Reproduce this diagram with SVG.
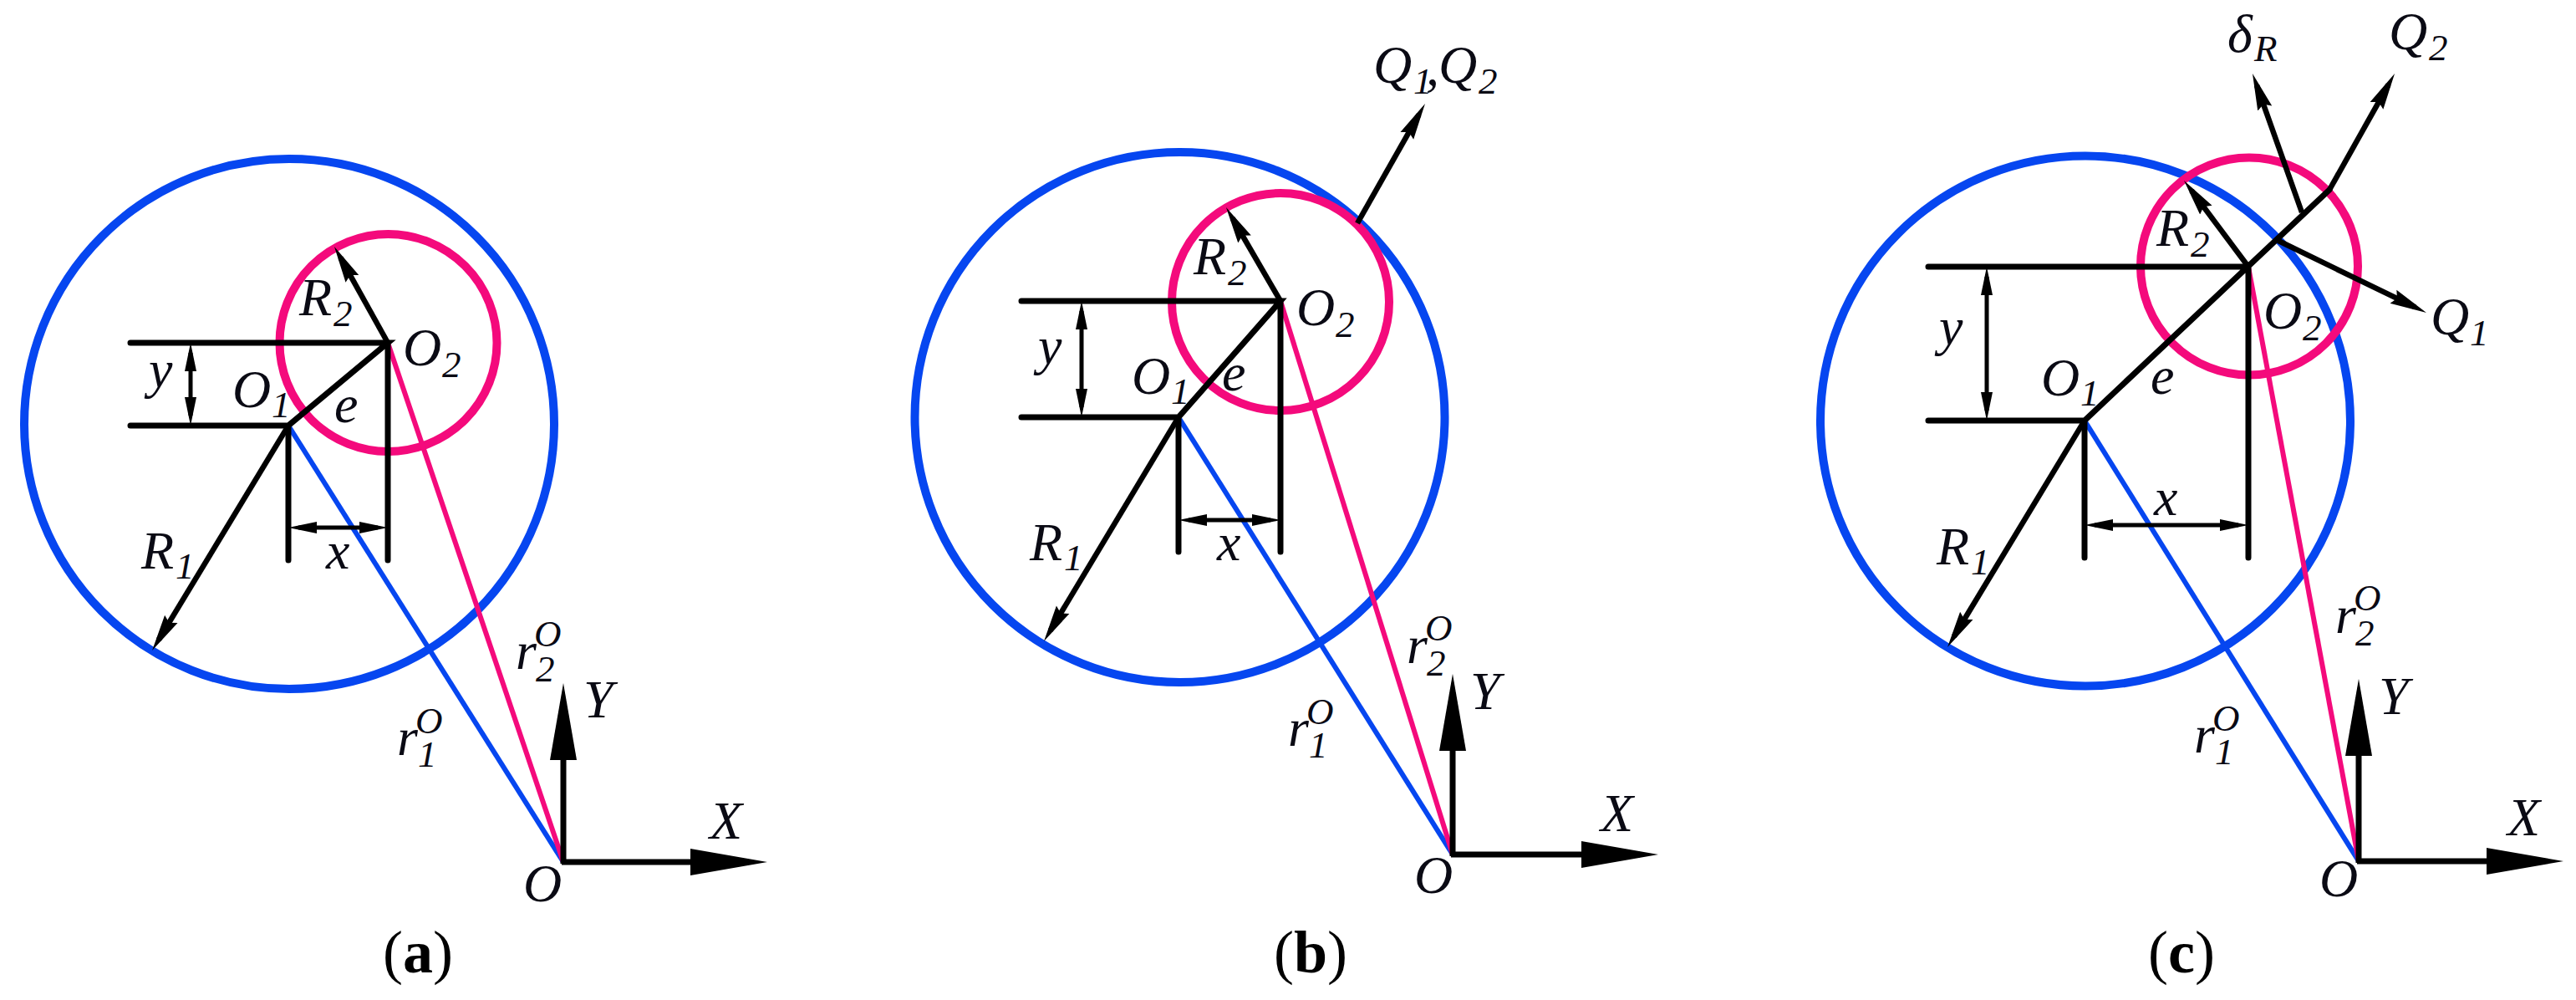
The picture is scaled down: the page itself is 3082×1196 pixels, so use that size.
<svg xmlns="http://www.w3.org/2000/svg" width="3082" height="1196" viewBox="0 0 3082 1196">
<defs>
<marker id="hm" markerUnits="userSpaceOnUse" markerWidth="46" markerHeight="20" refX="29" refY="10" orient="auto"><path d="M0 1 L44 10 L0 19 L5 10 Z" fill="#000"/></marker>
<marker id="hl" markerUnits="userSpaceOnUse" markerWidth="94" markerHeight="34" refX="70" refY="17" orient="auto"><path d="M0 1 L92 17 L0 33 Z" fill="#000"/></marker>
<marker id="hs" markerUnits="userSpaceOnUse" markerWidth="36" markerHeight="16" refX="22" refY="8" orient="auto-start-reverse"><path d="M0 1 L34 8 L0 15 Z" fill="#000"/></marker>
</defs>
<style>
.blue{fill:none;stroke:#0646f0;stroke-width:10}
.pink{fill:none;stroke:#f40a7c;stroke-width:10}
.bl{stroke:#0646f0;stroke-width:6;fill:none}
.pl{stroke:#f40a7c;stroke-width:6;fill:none}
.k{stroke:#000;stroke-width:7;fill:none;stroke-linecap:round}
.ka{stroke:#000;stroke-width:6.5;fill:none;marker-end:url(#hm)}
.ax{stroke:#000;stroke-width:7;fill:none;marker-end:url(#hl)}
.dm{stroke:#000;stroke-width:5;fill:none;marker-start:url(#hs);marker-end:url(#hs)}
text{font-family:"Liberation Serif","Times New Roman",serif;fill:#0a0a14}
.t{font-style:italic;font-size:64px}
.s{font-style:italic;font-size:45px}
.c{font-size:72px;text-anchor:middle;fill:#000}
.c tspan{font-weight:bold}
</style>
<rect width="3082" height="1196" fill="#fff"/>

<g id="panel-a">
<g id="circles-a">
<circle class="blue" cx="346" cy="507" r="317"/>
<circle class="pink" cx="464.5" cy="410" r="130"/>
</g>
<g id="connectors-a">
<line class="bl" x1="345" y1="509" x2="674" y2="1031"/>
<line class="pl" x1="464" y1="410" x2="674" y2="1031"/>
<path class="k" d="M156 410H464L345 509H156M345 509V670M464 410V670"/>
<line class="ka" x1="464" y1="410" x2="407.3" y2="308.1"/>
<line class="ka" x1="345" y1="509" x2="189.8" y2="765.2"/>
<line class="dm" x1="228" y1="422" x2="228" y2="497"/>
<line class="dm" x1="357" y1="631" x2="452" y2="631"/>
<line class="ax" x1="674" y1="1033" x2="674" y2="839"/>
<line class="ax" x1="672" y1="1031" x2="896" y2="1031"/>
</g>
<g id="labels-a">
<text class="t" x="358" y="377">R<tspan class="s" x="399" y="390">2</tspan></text>
<text class="t" x="482" y="437">O<tspan class="s" x="529" y="451">2</tspan></text>
<text class="t" x="278" y="487">O<tspan class="s" x="325" y="499">1</tspan></text>
<text class="t" x="400" y="505">e</text>
<text class="t" x="178" y="463">y</text>
<text class="t" x="390" y="680">x</text>
<text class="t" x="169" y="680">R<tspan class="s" x="210" y="692">1</tspan></text>
<text class="t" x="617" y="800">r<tspan class="s" x="639" y="773">O</tspan><tspan class="s" x="641" y="815">2</tspan></text>
<text class="t" x="475" y="903">r<tspan class="s" x="497" y="877">O</tspan><tspan class="s" x="500" y="917">1</tspan></text>
<text class="t" x="698" y="858">Y</text>
<text class="t" x="849" y="1003">X</text>
<text class="t" x="626" y="1078">O</text>
<text class="c" x="500" y="1163">(<tspan>a</tspan>)</text>
</g>
</g>

<g id="panel-b">
<g id="circles-b">
<circle class="blue" cx="1411.5" cy="499" r="317"/>
<circle class="pink" cx="1532" cy="361" r="130"/>
</g>
<g id="connectors-b">
<line class="bl" x1="1410" y1="499" x2="1738" y2="1022"/>
<line class="pl" x1="1532" y1="360" x2="1738" y2="1022"/>
<path class="k" d="M1222 360H1532L1410 499H1222M1410 499V660M1532 360V660"/>
<line class="ka" x1="1532" y1="360" x2="1474.5" y2="261"/>
<line class="ka" x1="1410" y1="499" x2="1256.7" y2="754.1"/>
<line class="ka" x1="1624" y1="267" x2="1697.6" y2="137.1"/>
<line class="dm" x1="1294" y1="372" x2="1294" y2="487"/>
<line class="dm" x1="1422" y1="622" x2="1520" y2="622"/>
<line class="ax" x1="1738" y1="1024" x2="1738" y2="828"/>
<line class="ax" x1="1736" y1="1022" x2="1962" y2="1022"/>
</g>
<g id="labels-b">
<text class="t" x="1643" y="99">Q<tspan class="s" x="1691" y="112">1</tspan><tspan x="1706" y="102">,</tspan><tspan x="1721" y="99">Q</tspan><tspan class="s" x="1769" y="112">2</tspan></text>
<text class="t" x="1428" y="328">R<tspan class="s" x="1469" y="341">2</tspan></text>
<text class="t" x="1551" y="389">O<tspan class="s" x="1598" y="403">2</tspan></text>
<text class="t" x="1354" y="471">O<tspan class="s" x="1401" y="483">1</tspan></text>
<text class="t" x="1462" y="467">e</text>
<text class="t" x="1242" y="435">y</text>
<text class="t" x="1456" y="670">x</text>
<text class="t" x="1232" y="670">R<tspan class="s" x="1273" y="682">1</tspan></text>
<text class="t" x="1683" y="793">r<tspan class="s" x="1705" y="766">O</tspan><tspan class="s" x="1707" y="808">2</tspan></text>
<text class="t" x="1541" y="892">r<tspan class="s" x="1563" y="866">O</tspan><tspan class="s" x="1566" y="906">1</tspan></text>
<text class="t" x="1759" y="848">Y</text>
<text class="t" x="1915" y="994">X</text>
<text class="t" x="1692" y="1068">O</text>
<text class="c" x="1568" y="1163">(<tspan>b</tspan>)</text>
</g>
</g>

<g id="panel-c">
<g id="circles-c">
<circle class="blue" cx="2495" cy="503.5" r="317"/>
<circle class="pink" cx="2691" cy="318.5" r="130"/>
</g>
<g id="connectors-c">
<line class="bl" x1="2494" y1="503" x2="2822" y2="1030"/>
<line class="pl" x1="2690" y1="319" x2="2822" y2="1030"/>
<path class="k" d="M2307 319H2690M2787 227L2494 503H2307M2494 503V667M2690 319V667"/>
<line class="ka" x1="2690" y1="319" x2="2622" y2="228"/>
<line class="ka" x1="2494" y1="503" x2="2337.8" y2="761.2"/>
<line class="ka" x1="2787" y1="227" x2="2857.7" y2="101.1"/>
<line class="ka" x1="2754" y1="254" x2="2700" y2="102.1"/>
<line class="ka" x1="2726" y1="288" x2="2889.5" y2="367.4"/>
<line class="dm" x1="2377" y1="331" x2="2377" y2="491"/>
<line class="dm" x1="2506" y1="628" x2="2678" y2="628"/>
<line class="ax" x1="2822" y1="1032" x2="2822" y2="834"/>
<line class="ax" x1="2820" y1="1030" x2="3045" y2="1030"/>
</g>
<g id="labels-c">
<text class="t" x="2665" y="62">δ<tspan class="s" x="2697" y="73">R</tspan></text>
<text class="t" x="2858" y="59">Q<tspan class="s" x="2906" y="72">2</tspan></text>
<text class="t" x="2908" y="400">Q<tspan class="s" x="2955" y="413">1</tspan></text>
<text class="t" x="2580" y="294">R<tspan class="s" x="2621" y="307">2</tspan></text>
<text class="t" x="2708" y="393">O<tspan class="s" x="2755" y="407">2</tspan></text>
<text class="t" x="2442" y="473">O<tspan class="s" x="2489" y="485">1</tspan></text>
<text class="t" x="2573" y="471">e</text>
<text class="t" x="2320" y="412">y</text>
<text class="t" x="2577" y="616">x</text>
<text class="t" x="2317" y="675">R<tspan class="s" x="2358" y="687">1</tspan></text>
<text class="t" x="2794" y="757">r<tspan class="s" x="2816" y="730">O</tspan><tspan class="s" x="2818" y="772">2</tspan></text>
<text class="t" x="2625" y="900">r<tspan class="s" x="2647" y="874">O</tspan><tspan class="s" x="2650" y="914">1</tspan></text>
<text class="t" x="2846" y="854">Y</text>
<text class="t" x="3000" y="999">X</text>
<text class="t" x="2775" y="1072">O</text>
<text class="c" x="2610" y="1163">(<tspan>c</tspan>)</text>
</g>
</g>
</svg>
